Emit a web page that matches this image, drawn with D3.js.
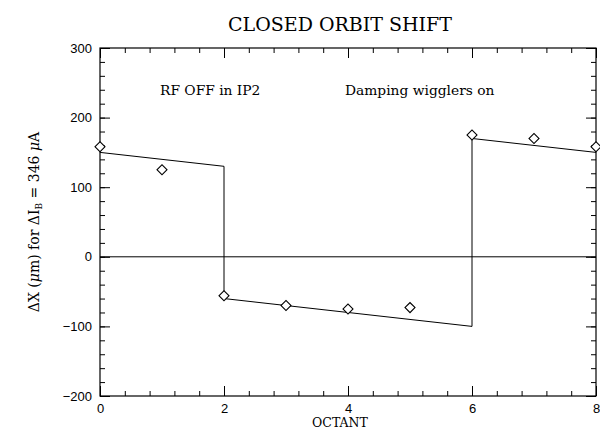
<!DOCTYPE html>
<html>
<head>
<meta charset="utf-8">
<script src="https://cdn.jsdelivr.net/npm/d3@7"></script>
<style>
  body { margin: 0; background: #fff; }
  text { fill: #000; }
</style>
</head>
<body>
<div id="chart"></div>
<script>
// measured points
var octant = [0, 1, 2, 3, 4, 5, 6, 7, 8]
var shift = [158, 125, -56, -70, -75, -73, 175, 170, 158]

// fitted line (step at octants 2 and 6)
var fitX = [0, 2, 2, 6, 6, 8]
var fitY = [150, 130, -60, -100, 170, 150]

var xTicks = [0, 2, 4, 6, 8]
var yTicks = [-200, -100, 0, 100, 200, 300]

var width = 600, height = 431
var margin = {top: 48, right: 4, bottom: 35, left: 100}

var svg = d3.select("#chart").append("svg")
    .attr("width", width)
    .attr("height", height)

var x = d3.scaleLinear().domain([0, 8]).range([margin.left, width - margin.right])
var y = d3.scaleLinear().domain([-200, 300]).range([height - margin.bottom, margin.top])

var serif = "'DejaVu Serif', 'Liberation Serif', serif"
var sans = "'Liberation Sans', Arial, sans-serif"

var minorX = d3.range(0, 8.001, 0.4)
var minorY = d3.range(-200, 300.001, 20)
var noLabel = function () { return "" }

//Axes: ticks pointing inward, mirrored on all four sides
function drawAxis(g, axisFn, scale, majors, minors, pad) {
    g.call(axisFn(scale).tickValues(minors).tickSize(-5).tickFormat(noLabel))
    g.select(".domain").remove()
    var g2 = g.append("g")
    g2.call(axisFn(scale).tickValues(majors).tickSize(-10).tickPadding(pad || 0)
        .tickFormat(pad ? function (d) { return d < 0 ? "\u2212" + Math.abs(d) : d } : noLabel))
    g2.select(".domain").remove()
    g.selectAll("line").attr("stroke", "#000").attr("stroke-width", 1)
    g.selectAll("text").attr("font-family", sans).attr("font-size", 13).attr("fill", "#000")
}

var axBottom = svg.append("g").attr("transform", "translate(0," + y(-200) + ")")
drawAxis(axBottom, d3.axisBottom, x, xTicks, minorX, 8)

var axTop = svg.append("g").attr("transform", "translate(0," + y(300) + ")")
drawAxis(axTop, d3.axisTop, x, xTicks, minorX, 0)

var axLeft = svg.append("g").attr("transform", "translate(" + x(0) + ",0)")
drawAxis(axLeft, d3.axisLeft, y, yTicks, minorY, 8)

var axRight = svg.append("g").attr("transform", "translate(" + x(8) + ",0)")
drawAxis(axRight, d3.axisRight, y, yTicks, minorY, 0)

//Frame
svg.append("rect")
    .attr("x", x(0)).attr("y", y(300))
    .attr("width", x(8) - x(0)).attr("height", y(-200) - y(300))
    .attr("fill", "none").attr("stroke", "#000").attr("stroke-width", 1.2)

//Zero line
svg.append("line")
    .attr("x1", x(0)).attr("x2", x(8))
    .attr("y1", y(0)).attr("y2", y(0))
    .attr("stroke", "#000").attr("stroke-width", 1)

//Fit line
var line = d3.line().x(function (d) { return x(d[0]) }).y(function (d) { return y(d[1]) })
svg.append("path")
    .datum(d3.zip(fitX, fitY))
    .attr("d", line)
    .attr("fill", "none").attr("stroke", "#000").attr("stroke-width", 1)

//Diamonds
var sym = d3.symbol().type(d3.symbolSquare).size(50)
svg.selectAll(".pt")
    .data(d3.zip(octant, shift))
    .enter().append("path")
    .attr("class", "pt")
    .attr("d", sym)
    .attr("transform", function (d) { return "translate(" + x(d[0]) + "," + y(d[1]) + ") rotate(45)" })
    .attr("fill", "#fff").attr("stroke", "#000").attr("stroke-width", 1.1)

//Title and labels
svg.append("text")
    .attr("x", 340).attr("y", 31)
    .attr("text-anchor", "middle")
    .attr("font-family", serif).attr("font-size", 19)
    .text("CLOSED ORBIT SHIFT")

svg.append("text")
    .attr("x", 160).attr("y", 95)
    .attr("font-family", serif).attr("font-size", 13.8)
    .text("RF OFF in IP2")

svg.append("text")
    .attr("x", 345).attr("y", 95)
    .attr("font-family", serif).attr("font-size", 13.8)
    .text("Damping wigglers on")

svg.append("text")
    .attr("x", 340).attr("y", 427)
    .attr("text-anchor", "middle")
    .attr("font-family", serif).attr("font-size", 12.5)
    .text("OCTANT")

var ylab = svg.append("text")
    .attr("transform", "translate(39," + 222 + ") rotate(-90)")
    .attr("text-anchor", "middle")
    .attr("font-family", serif).attr("font-size", 14)
ylab.append("tspan").text("\u0394X (")
ylab.append("tspan").attr("font-style", "italic").text("\u03bc")
ylab.append("tspan").text("m) for \u0394I")
ylab.append("tspan").attr("font-size", 9).attr("dy", 3).text("B")
ylab.append("tspan").attr("dy", -3).text(" = 346 ")
ylab.append("tspan").attr("font-style", "italic").text("\u03bc")
ylab.append("tspan").text("A")
</script>
</body>
</html>
